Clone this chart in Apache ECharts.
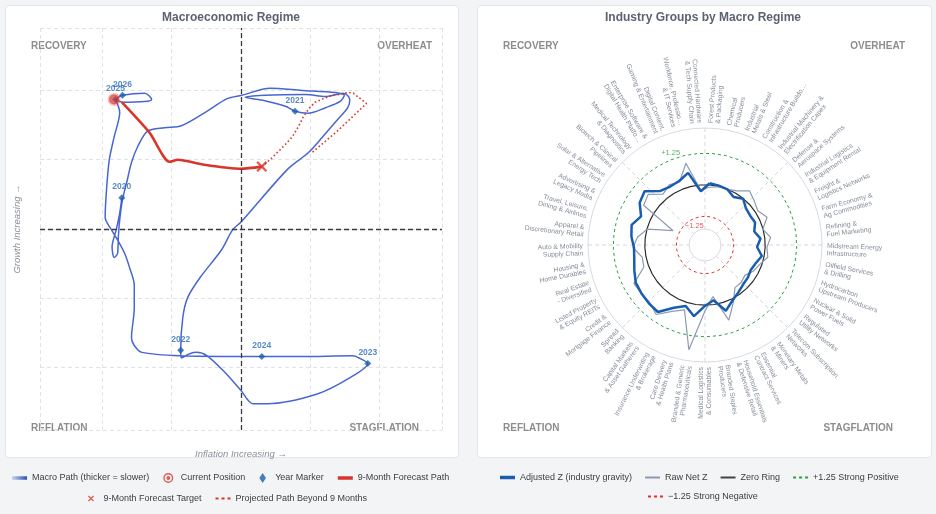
<!DOCTYPE html>
<html>
<head>
    <meta charset="UTF-8">
    <title>Macro Regime</title>
    <script src="https://cdn.jsdelivr.net/npm/echarts/dist/echarts.min.js"></script>
    <style>
        html, body { margin: 0; padding: 0; }
        body { background: #f3f4f6; width: 936px; height: 514px; overflow: hidden; position: relative; }
        .card { position: absolute; top: 5px; height: 453px; background: #fff; border: 1px solid #e3e6ea; border-radius: 4px; box-sizing: border-box; }
        #left { left: 5px; width: 454px; }
        #right { left: 477px; width: 455px; }
        #chart { position: absolute; left: 0; top: 0; width: 936px; height: 514px; }
    </style>
</head>
<body>
    <div class="card" id="left"></div>
    <div class="card" id="right"></div>
    <div id="chart"></div>
<script>
    // ---- left panel data (growth / inflation z) ----
    var pathX = [-1.72, -1.75, -1.80, -1.86, -1.83, -1.78, -1.77, -1.75, -1.71, -1.64, -1.58, -1.49, -1.35, -1.10, -0.86, -0.52, -0.20, 0.01, 0.42, 0.88,
        1.36, 1.49, 1.43, 1.22, 0.97, 0.78, 0.64, 0.30, 0.06, 0.35, 0.93, 1.22, 1.48, 1.57, 1.54, 1.36, 1.17, 0.97, 0.67, 0.00,
        -0.12, -0.28, -0.59, -0.77, -0.84, -0.87, -0.86, -0.74, -0.64, -0.49, -0.23, 0.00, 0.17, 0.38, 1.10, 1.58, 1.83, 1.72, 1.61, 0.86,
        0.30, 0.00, -0.86, -1.43, -1.54, -1.58, -1.54, -1.54, -1.61, -1.68, -1.78, -1.87, -1.96, -1.94, -1.90, -1.83, -1.75, -1.81, -1.71, -1.39,
        -1.29, -1.39, -1.71, -1.80];
    var pathY = [0.45, 0.23, -0.01, -0.26, -0.41, -0.35, -0.12, 0.13, 0.42, 0.71, 0.96, 1.19, 1.41, 1.46, 1.49, 1.68, 1.88, 1.93, 2.03, 2.00,
        1.97, 1.93, 1.84, 1.75, 1.67, 1.70, 1.77, 1.86, 1.90, 1.93, 1.94, 1.91, 1.96, 1.87, 1.75, 1.54, 1.32, 1.10, 0.86, 0.10,
        -0.01, -0.30, -0.70, -0.99, -1.28, -1.75, -1.86, -1.80, -1.78, -1.83, -2.07, -2.33, -2.52, -2.52, -2.38, -2.14, -1.94, -1.87, -1.83, -1.84,
        -1.84, -1.84, -1.83, -1.78, -1.68, -1.57, -1.14, -0.81, -0.55, -0.35, -0.16, -0.01, 0.17, 0.57, 1.00, 1.33, 1.68, 1.87, 1.83, 1.84,
        1.87, 1.96, 1.93, 1.88];
    var years = ['2020', '2021', '2022', '2023', '2024', '2025', '2026'];
    var yearX = [-1.72, 0.78, -0.87, 1.83, 0.30, -1.81, -1.71];
    var yearY = [0.45, 1.70, -1.75, -1.94, -1.84, 1.87, 1.93];
    var forecastX = [-1.72, -1.32, -1.03, -0.91, -0.55, 0.00, 0.30];
    var forecastY = [1.83, 1.39, 0.97, 1.00, 0.93, 0.87, 0.90];
    var projX = [0.30, 0.42, 0.54, 0.64, 0.74, 0.83, 0.90, 0.99, 1.07, 1.26, 1.55, 1.62, 1.81, 1.41, 1.01];
    var projY = [0.90, 1.00, 1.12, 1.22, 1.33, 1.48, 1.62, 1.75, 1.83, 1.91, 1.97, 1.96, 1.81, 1.43, 1.09];
    var currentPos = [-1.83, 1.87];
    var forecastTarget = [0.30, 0.90];

    // ---- right panel data ----
    var categories = [
        'Forest Products\n& Packaging', 'Chemical\nProducers', 'Industrial\nMetals & Steel', 'Construction &\nInfrastructure Buildo…',
        'Industrial Machinery &\nElectrification Capex', 'Defense &\nAerospace Systems', 'Industrial Logistics\n& Equipment Rental',
        'Freight &\nLogistics Networks', 'Farm Economy &\nAg Commodities', 'Refining &\nFuel Marketing', 'Midstream Energy\nInfrastructure',
        'Oilfield Services\n& Drilling', 'Hydrocarbon\nUpstream Producers', 'Nuclear & Solid\nPower Fuels', 'Regulated\nUtility Networks',
        'Telecom Subscription\nNetworks', 'Monetary Metals\n& Miners', 'Essential\nContract Services', 'Household Essentials\n& Defensive Retail',
        'Branded Staples\nProducers', 'Medical Logistics\n& Consumables', 'Branded & Generic\nPharmaceuticals', 'Care Delivery\n& Health Plans',
        'Insurance Underwriting\n& Brokerage', 'Capital Markets\n& Asset Gatherers', 'Spread\nBanking', 'Credit &\nMortgage Finance',
        'Listed Property\n& Equity REITs', 'Real Estate\n- Diversified', 'Housing &\nHome Durables', 'Auto & Mobility\nSupply Chain',
        'Apparel &\nDiscretionary Retail', 'Travel, Leisure,\nDining & Airlines', 'Advertising &\nLegacy Media', 'Solar & Alternative\nEnergy Tech',
        'Biotech & Clinical\nPipelines', 'Medical Technology\n& Diagnostics', 'Enterprise Software &\nDigital Health Platfo…',
        'Digital Content,\nGaming & Entertainment', 'Workforce, Professio…\n& IT Services', 'Connected Hardware\n& Tech Supply Chain'
    ];
    var adjustedZ = [0.07, 0.03, -0.01, -0.17, -0.01, -0.21, -0.25, -0.21, -0.36, -0.17, -0.32, -0.09, -0.25, -0.32, -0.25, -0.21, -0.09, 0.07, 0.35, -0.17,
        0.03, 0.47, 0.15, 0.39, 0.86, 0.82, 0.78, 0.74, 0.59, 0.47, 0.43, 0.55, 0.63, 0.39, 0.70, 0.82, 0.39, 0.31, 0.35, 0.55, -0.25];
    var rawNetZ = [-0.09, -0.01, -0.01, 0.11, 0.39, 0.23, 0.11, 0.31, -0.01, 0.23, 0.07, 0.15, -0.09, -0.21, -0.40, -0.32, -0.32, 0.15, 0.74, -0.32,
        0.23, 1.81, 0.31, 0.55, 0.98, 0.78, 0.78, 0.82, 0.19, 0.15, 0.47, 0.31, -0.01, -1.00, 0.51, 0.63, 0.23, 0.39, 0.31, 0.94, -0.21];
    var ringValues = [0, 1.25, -1.25];
    var ringLabels = ['', '+1.25', '\u22121.25'];

    var FONT = 'Liberation Sans, Arial, sans-serif';
    var RED = '#d9362b';

    function pairs(xs, ys) {
        return xs.map(function (x, i) { return [x, ys[i]]; });
    }
    // closed loop on the category angle axis
    function loop(vals) {
        var d = vals.map(function (v, i) { return [v, i]; });
        d.push([vals[0], 0]);
        return d;
    }
    function ring(v) {
        return loop(categories.map(function () { return v; }));
    }

    var lineIcon = 'path://M0,0H15V3.5H0Z';
    var thinIcon = 'path://M0,0H15V2H0Z';
    var dotIcon = 'path://M0,0H3V2H0ZM6,0H9V2H6ZM12,0H15V2H12Z';
    var ringIcon = 'path://M5,0A5,5 0 1,1 4.99,0ZM5,1.4A3.6,3.6 0 1,0 5.01,1.4ZM5,3.1A1.9,1.9 0 1,1 4.99,3.1Z';
    var diamondIcon = 'path://M3,0L6,4.5L3,9L0,4.5Z';
    var xIcon = 'path://M0,1.5L1.5,0L5,3.5L8.5,0L10,1.5L6.5,5L10,8.5L8.5,10L5,6.5L1.5,10L0,8.5L3.5,5Z';

    var legendText = { fontSize: 9, color: '#3d3d3d', fontFamily: FONT };

    function quad(text, x, y, align) {
        return {
            type: 'text', x: x, y: y, silent: true,
            style: { text: text, fill: '#8d8d8d', font: 'bold 10px ' + FONT, align: align, verticalAlign: 'middle' }
        };
    }

    var chart = echarts.init(document.getElementById('chart'));
    var option = {
        animation: false,
        backgroundColor: 'transparent',
        graphic: [
            { type: 'text', x: 231, y: 18, silent: true, style: { text: 'Macroeconomic Regime', fill: '#5b6372', font: 'bold 12px ' + FONT, align: 'center', verticalAlign: 'middle' } },
            { type: 'text', x: 703, y: 18, silent: true, style: { text: 'Industry Groups by Macro Regime', fill: '#5b6372', font: 'bold 12px ' + FONT, align: 'center', verticalAlign: 'middle' } },
            quad('RECOVERY', 31, 46, 'left'), quad('OVERHEAT', 432, 46, 'right'),
            quad('REFLATION', 31, 428, 'left'), quad('STAGFLATION', 419, 428, 'right'),
            quad('RECOVERY', 503, 46, 'left'), quad('OVERHEAT', 905, 46, 'right'),
            quad('REFLATION', 503, 428, 'left'), quad('STAGFLATION', 893, 428, 'right')
        ],
        grid: { left: 40, top: 28, width: 402, height: 402 },
        xAxis: {
            type: 'value', min: -2.9, max: 2.9,
            name: 'Inflation Increasing \u2192', nameLocation: 'middle', nameGap: 19,
            nameTextStyle: { fontStyle: 'italic', color: '#8a8f98', fontSize: 9.5, fontFamily: FONT },
            axisLine: { show: false }, axisTick: { show: false }, axisLabel: { show: false },
            splitLine: { show: true, lineStyle: { color: '#dfe2e7', type: [4, 3] } }
        },
        yAxis: {
            type: 'value', min: -2.9, max: 2.9,
            name: 'Growth Increasing \u2192', nameLocation: 'middle', nameGap: 18,
            nameTextStyle: { fontStyle: 'italic', color: '#8a8f98', fontSize: 9.5, fontFamily: FONT },
            axisLine: { show: false }, axisTick: { show: false }, axisLabel: { show: false },
            splitLine: { show: true, lineStyle: { color: '#dfe2e7', type: [4, 3] } }
        },
        polar: [
            { center: [705, 245], radius: [16, 117] },
            { center: [705, 245], radius: [16, 117] }
        ],
        angleAxis: [
            {
                polarIndex: 0, type: 'value', min: 0, max: 360, interval: 45, startAngle: 90, clockwise: true,
                axisLine: { show: true, lineStyle: { color: '#d6dae0', width: 1 } },
                axisTick: { show: false }, axisLabel: { show: false },
                splitLine: { show: true, lineStyle: { color: '#d3d7dd', type: [4, 3] } }
            },
            {
                polarIndex: 1, type: 'category', data: categories, startAngle: 90, clockwise: true, boundaryGap: true,
                axisLine: { show: false }, axisTick: { show: false }, axisLabel: { show: false }, splitLine: { show: false }
            }
        ],
        radiusAxis: [
            { polarIndex: 0, type: 'value', min: 0, max: 1, axisLine: { show: false }, axisTick: { show: false }, axisLabel: { show: false }, splitLine: { show: false } },
            { polarIndex: 1, type: 'value', min: -1.75, max: 2.25, axisLine: { show: false }, axisTick: { show: false }, axisLabel: { show: false }, splitLine: { show: false } }
        ],
        legend: [
            {
                left: 12, top: 473, padding: 0, itemWidth: 15, itemHeight: 10, itemGap: 14, selectedMode: false, symbolKeepAspect: true, textStyle: legendText,
                data: [
                    { name: 'Macro Path (thicker = slower)', icon: lineIcon, itemStyle: { borderWidth: 0, color: { type: 'linear', x: 0, y: 0, x2: 1, y2: 0, colorStops: [{ offset: 0, color: '#c8d5f2' }, { offset: 1, color: '#2a4db3' }] } } },
                    { name: 'Current Position', icon: ringIcon, itemStyle: { color: RED, borderWidth: 0 } },
                    { name: 'Year Marker', icon: diamondIcon, itemStyle: { color: '#1d5fae', borderWidth: 0 } },
                    { name: '9-Month Forecast Path', icon: lineIcon, itemStyle: { color: RED, borderWidth: 0 } }
                ]
            },
            {
                left: 88, top: 494, padding: 0, itemWidth: 15, itemHeight: 6, itemGap: 14, selectedMode: false, symbolKeepAspect: true, textStyle: legendText,
                data: [
                    { name: '9-Month Forecast Target', icon: xIcon, itemStyle: { color: RED, borderWidth: 0 } },
                    { name: 'Projected Path Beyond 9 Months', icon: dotIcon, itemStyle: { color: RED, borderWidth: 0 } }
                ]
            },
            {
                left: 500, top: 473, padding: 0, itemWidth: 15, itemHeight: 10, itemGap: 13, selectedMode: false, symbolKeepAspect: true, textStyle: legendText,
                data: [
                    { name: 'Adjusted Z (industry gravity)', icon: lineIcon, itemStyle: { color: '#1a5cb0', borderWidth: 0 } },
                    { name: 'Raw Net Z', icon: thinIcon, itemStyle: { color: '#8d9ab0', borderWidth: 0 } },
                    { name: 'Zero Ring', icon: thinIcon, itemStyle: { color: '#444', borderWidth: 0 } },
                    { name: '+1.25 Strong Positive', icon: dotIcon, itemStyle: { color: '#2f9e44', borderWidth: 0 } }
                ]
            },
            {
                left: 648, top: 492, padding: 0, itemWidth: 15, itemHeight: 10, itemGap: 13, selectedMode: false, symbolKeepAspect: true, textStyle: legendText,
                data: [
                    { name: '\u22121.25 Strong Negative', icon: dotIcon, itemStyle: { color: '#e03131', borderWidth: 0 } }
                ]
            }
        ],
        series: [
            {
                name: 'Macro Path (thicker = slower)', type: 'line', data: pairs(pathX, pathY),
                smooth: 0.3, symbol: 'none', z: 2,
                lineStyle: { color: '#4766d2', width: 1.5 },
                markLine: {
                    silent: true, symbol: ['none', 'none'], label: { show: false },
                    lineStyle: { color: '#3a3a3a', type: [5, 3], width: 1.3 },
                    data: [{ xAxis: 0 }, { yAxis: 0 }]
                }
            },
            {
                name: '9-Month Forecast Path', type: 'line', data: pairs(forecastX, forecastY),
                smooth: 0.25, symbol: 'none', z: 3,
                lineStyle: { color: RED, width: 2.6 }
            },
            {
                name: 'Projected Path Beyond 9 Months', type: 'line', data: pairs(projX, projY),
                smooth: false, symbol: 'none', z: 3,
                lineStyle: { color: RED, width: 1.6, type: [1.6, 2.4] }
            },
            {
                name: 'Year Marker', type: 'scatter', z: 4,
                data: yearX.map(function (x, i) { return { name: years[i], value: [x, yearY[i]] }; }),
                symbol: 'diamond', symbolSize: 7,
                itemStyle: { color: '#1d5fae' },
                label: { show: true, position: 'top', distance: 3, formatter: '{b}', color: '#2f6cb8', fontSize: 8.5, fontWeight: 'bold', fontFamily: FONT }
            },
            {
                name: 'Current Position', type: 'scatter', z: 5, data: [currentPos],
                symbol: 'circle', symbolSize: 10,
                itemStyle: { color: 'rgba(214,50,40,0.85)', borderColor: 'rgba(228,80,70,0.45)', borderWidth: 3 }
            },
            {
                name: '9-Month Forecast Target', type: 'scatter', z: 5, data: [forecastTarget],
                symbol: xIcon, symbolSize: 11,
                itemStyle: { color: RED }
            },
            // ---- right panel ----
            {
                name: 'Zero Ring', type: 'line', coordinateSystem: 'polar', polarIndex: 1, data: ring(ringValues[0]),
                symbol: 'none', z: 2, lineStyle: { color: '#2b2b2b', width: 1.2 }
            },
            {
                name: '+1.25 Strong Positive', type: 'line', coordinateSystem: 'polar', polarIndex: 1, data: ring(ringValues[1]),
                symbol: 'none', z: 2, lineStyle: { color: '#2f9e44', width: 1, type: [3, 3] }
            },
            {
                name: '\u22121.25 Strong Negative', type: 'line', coordinateSystem: 'polar', polarIndex: 1, data: ring(ringValues[2]),
                symbol: 'none', z: 2, lineStyle: { color: '#e03131', width: 1, type: [3, 3] }
            },
            {
                name: 'ring labels', type: 'scatter', coordinateSystem: 'polar', polarIndex: 1, symbolSize: 0, z: 6, silent: true,
                data: [
                    { value: [ringValues[1], 38], label: { position: 'top', color: '#2f9e44' } },
                    { value: [ringValues[2], 38], label: { position: 'bottom', color: '#e03131' } }
                ],
                label: {
                    show: true, fontSize: 7.5, fontFamily: FONT, distance: 3,
                    formatter: function (p) { return ringLabels[p.dataIndex + 1]; }
                }
            },
            {
                name: 'Raw Net Z', type: 'line', coordinateSystem: 'polar', polarIndex: 1, data: loop(rawNetZ),
                symbol: 'none', z: 3, lineStyle: { color: '#8d9ab0', width: 1.2 }
            },
            {
                name: 'Adjusted Z (industry gravity)', type: 'line', coordinateSystem: 'polar', polarIndex: 1, data: loop(adjustedZ),
                symbol: 'none', z: 4, lineStyle: { color: '#1a5cb0', width: 2.5 }
            },
            {
                name: 'category labels', type: 'custom', coordinateSystem: 'polar', polarIndex: 1, silent: true, z: 5,
                data: categories.map(function (c, i) { return [0, i]; }),
                renderItem: function (params, api) {
                    var i = api.value(1);
                    var p = api.coord([0, i]);
                    var cs = params.coordSys;
                    var dx = p[0] - cs.cx, dy = p[1] - cs.cy;
                    var len = Math.sqrt(dx * dx + dy * dy);
                    var R = cs.r + 5;
                    var a = Math.atan2(-dy, dx);
                    var right = dx > 0.01;
                    return {
                        type: 'text',
                        x: cs.cx + dx / len * R,
                        y: cs.cy + dy / len * R,
                        rotation: right ? a : a + Math.PI,
                        style: {
                            text: categories[i], fill: '#858c98', fontSize: 6.8, fontFamily: FONT,
                            align: right ? 'left' : 'right', verticalAlign: 'middle', lineHeight: 7.5
                        }
                    };
                }
            }
        ]
    };
    chart.setOption(option);
</script>
</body>
</html>
